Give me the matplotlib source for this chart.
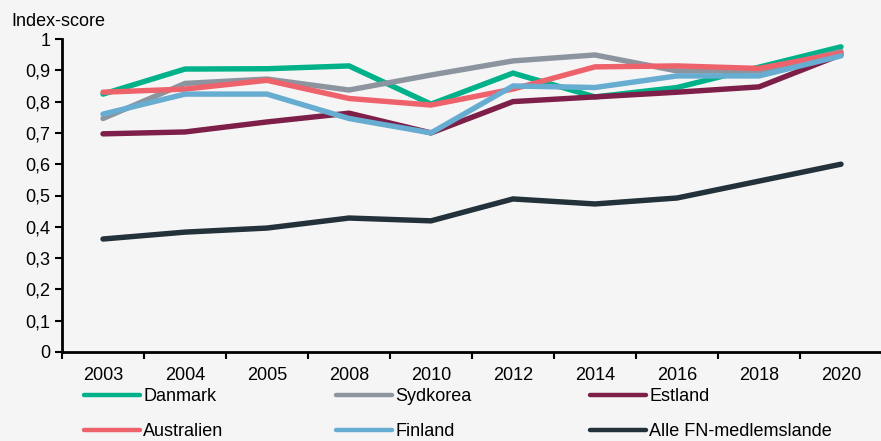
import matplotlib.pyplot as plt
from matplotlib.lines import Line2D
from matplotlib.ticker import FixedLocator, FuncFormatter

plt.rcParams['font.family'] = ['Liberation Sans', 'DejaVu Sans']

# Index-score per country and year
years = ['2003', '2004', '2005', '2008', '2010', '2012', '2014', '2016', '2018', '2020']
danmark = [0.824, 0.904, 0.905, 0.914, 0.792, 0.891, 0.815, 0.845, 0.910, 0.975]
sydkorea = [0.746, 0.858, 0.872, 0.837, 0.885, 0.930, 0.949, 0.898, 0.898, 0.960]
estland = [0.697, 0.703, 0.735, 0.763, 0.700, 0.800, 0.815, 0.830, 0.847, 0.950]
australien = [0.830, 0.840, 0.868, 0.810, 0.789, 0.840, 0.911, 0.914, 0.906, 0.955]
finland = [0.760, 0.824, 0.824, 0.746, 0.700, 0.850, 0.845, 0.882, 0.882, 0.946]
alle_fn = [0.361, 0.383, 0.396, 0.428, 0.419, 0.489, 0.473, 0.492, 0.546, 0.600]

series = [
    ('Danmark', danmark, '#00B189'),
    ('Sydkorea', sydkorea, '#8C959F'),
    ('Estland', estland, '#7D1F48'),
    ('Australien', australien, '#EE636B'),
    ('Finland', finland, '#67ACD1'),
    ('Alle FN-medlemslande', alle_fn, '#22313A'),
]

bg = '#F5F5F5'
fs = 13
fig = plt.figure(figsize=(8.81, 4.41), dpi=100, facecolor=bg)
ax = fig.add_axes([62 / 881, 89 / 441, 820 / 881, 313 / 441], facecolor=bg)

x = list(range(len(years)))
handles = []
for name, vals, col in series:
    ax.plot(x, vals, color=col, lw=3.9, solid_capstyle='round', solid_joinstyle='miter')
    handles.append(Line2D([], [], color=col, lw=3.2, solid_capstyle='round', label=name))

ax.set_xlim(-0.5, len(years) - 0.5)
ax.set_ylim(0, 1)
ax.set_yticks([i / 10 for i in range(11)])
ax.yaxis.set_major_formatter(FuncFormatter(
    lambda v, p: '0' if v == 0 else ('1' if v == 1 else f'{v:.1f}'.replace('.', ','))))

# category labels centred, ticks on the boundaries
ax.set_xticks(x)
ax.set_xticklabels(years)
ax.tick_params(axis='x', which='major', length=0, pad=11)
ax.xaxis.set_minor_locator(FixedLocator([i - 0.5 for i in range(len(years) + 1)]))
ax.tick_params(axis='x', which='minor', length=5, width=1.5, direction='out')
ax.tick_params(axis='y', length=5, width=1.5, direction='out', pad=3.5)
ax.tick_params(labelsize=fs)

for s in ['top', 'right']:
    ax.spines[s].set_visible(False)
for s in ['left', 'bottom']:
    ax.spines[s].set_linewidth(2)
    ax.spines[s].set_color('black')

fig.text(11 / 881, 1 - 22 / 441, 'Index-score', fontsize=fs, va='center', ha='left')

# three legend columns, two rows each
col_x = [84, 336, 590]
for i, cx in enumerate(col_x):
    fig.legend(handles=[handles[i], handles[i + 3]], loc='upper left',
               bbox_to_anchor=(cx / 881, 1 - 388 / 441), frameon=False,
               fontsize=fs, handlelength=3.1, handletextpad=0.17,
               labelspacing=1.02, borderpad=0, borderaxespad=0)

fig.savefig('out.png', dpi=100, facecolor=bg)
